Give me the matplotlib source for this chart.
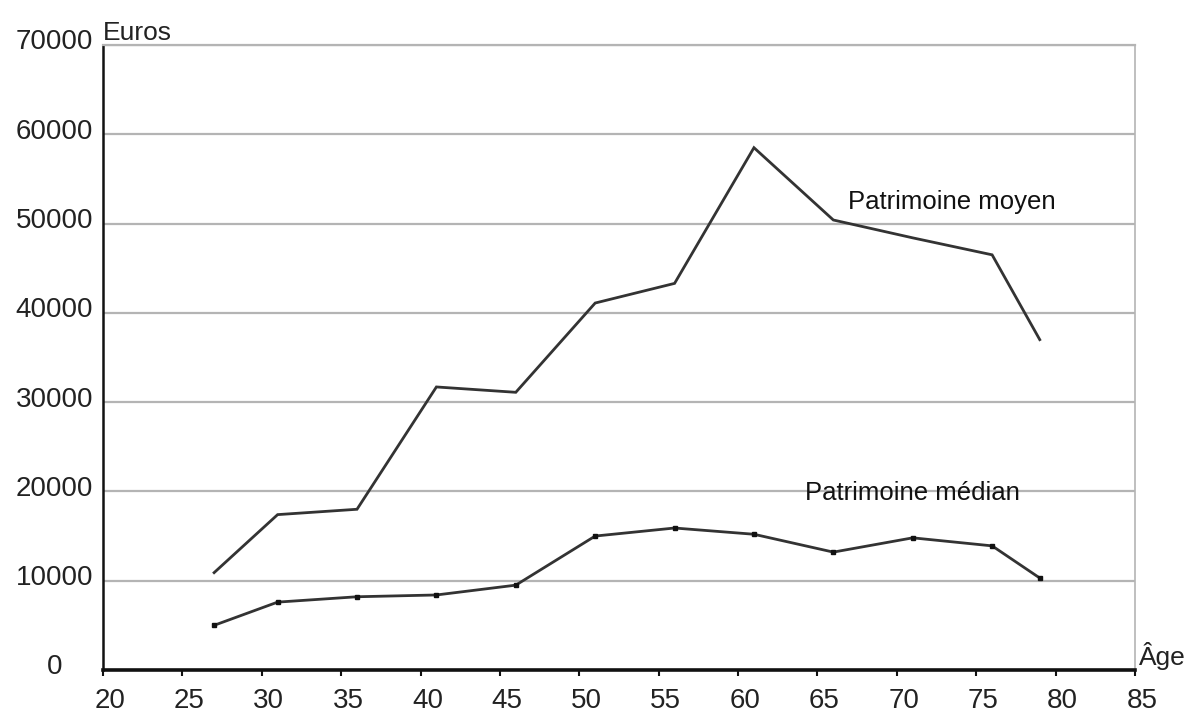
import matplotlib
matplotlib.use("Agg")
import matplotlib.pyplot as plt
import matplotlib.transforms as mtransforms

plt.rcParams['font.family'] = ['Liberation Sans', 'DejaVu Sans']

# valeurs
ages = [27, 31, 36, 41, 46, 51, 56, 61, 66, 71, 76, 79]
moyen = [10900, 17400, 18000, 31700, 31100, 41100, 43300, 58500, 50400, 48400, 46500, 37000]
median = [5000, 7600, 8200, 8400, 9500, 15000, 15900, 15200, 13200, 14800, 13900, 10300]

xticks = list(range(20, 90, 5))
yticks = list(range(0, 80000, 10000))

fig = plt.figure(figsize=(11.89, 7.18), dpi=100)
ax = fig.add_axes([0.0866, 0.0669, 0.868, 0.8704])

ax.plot(ages, moyen, color='#333333', lw=2.0, solid_joinstyle='miter')
ax.plot(ages, median, color='#333333', lw=2.0, marker='s', ms=3.5,
        mfc='#111111', mec='#111111')

ax.set_xlim(20, 85)
ax.set_ylim(0, 70000)
ax.set_xticks(xticks)
ax.set_yticks(yticks)
ax.set_xticklabels([str(t) for t in xticks])
ax.set_yticklabels([str(t) for t in yticks])

ax.yaxis.grid(True, color='#b4b4b4', lw=1.6)
ax.set_axisbelow(True)

for s in ['left', 'bottom']:
    ax.spines[s].set_color('#111111')
ax.spines['left'].set_linewidth(1.8)
ax.spines['bottom'].set_linewidth(2.6)
ax.spines['right'].set_color('#b4b4b4')
ax.spines['right'].set_linewidth(1.2)
ax.spines['top'].set_color('#b4b4b4')
ax.spines['top'].set_linewidth(1.6)

ax.tick_params(axis='x', length=4, width=1.5, direction='out', color='#111111',
               labelsize=20, labelcolor='#222222', pad=9)
ax.tick_params(axis='y', length=0, labelsize=20, labelcolor='#222222', pad=35)

# décalage des étiquettes comme sur l'original
dy = mtransforms.ScaledTranslation(0, 4 / 72, fig.dpi_scale_trans)
for lab in ax.get_yticklabels():
    lab.set_horizontalalignment('center')
    lab.set_transform(lab.get_transform() + dy)
dx = mtransforms.ScaledTranslation(5 / 72, 0, fig.dpi_scale_trans)
for lab in ax.get_xticklabels():
    lab.set_transform(lab.get_transform() + dx)

ax.text(0.0, 1.0, 'Euros', transform=ax.transAxes, fontsize=19, color='#222222',
        ha='left', va='bottom')
ax.text(1.004, 0.0, 'Âge', transform=ax.transAxes, fontsize=19, color='#222222',
        ha='left', va='bottom')

ax.text(66.9, 52400, 'Patrimoine moyen', fontsize=18.5, color='#111111',
        ha='left', va='center')
ax.text(64.2, 19800, 'Patrimoine médian', fontsize=18.5, color='#111111',
        ha='left', va='center')

fig.savefig('out.png', dpi=100)
